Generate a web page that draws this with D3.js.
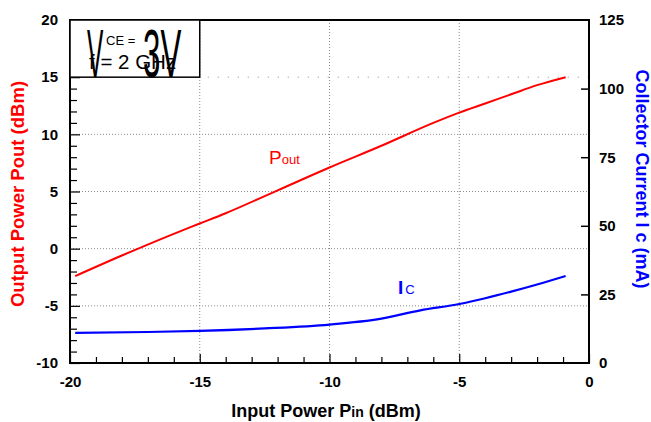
<!DOCTYPE html>
<html>
<head>
<meta charset="utf-8">
<script src="https://cdn.jsdelivr.net/npm/d3@7/dist/d3.min.js"></script>
<style>
  html, body { margin: 0; padding: 0; background: #fff; }
  svg { display: block; font-family: "Liberation Sans", Arial, sans-serif; }
</style>
</head>
<body>
<svg id="chart" width="651" height="422"></svg>
<script>
// Input power sweep (dBm) and measured output power (dBm)
const pinPout = [-19.8, -18, -16, -15, -14, -12, -10, -8, -6, -5, -4, -3, -2, -0.9];
const poutValues = [-2.4, -0.6, 1.3, 2.2, 3.1, 5.1, 7.1, 9.0, 11.0, 11.9, 12.7, 13.5, 14.3, 15.0];

// Collector current (mA) over the same sweep
const pinIc = [-19.8, -17, -15, -12.5, -10, -8, -6.5, -5, -4, -3, -2, -0.9];
const icValues = [11.0, 11.3, 11.7, 12.6, 14.0, 16.2, 19.2, 21.5, 23.6, 26.0, 28.6, 31.7];

// Tick labels
const xTicks = [-20, -15, -10, -5, 0];
const leftTicks = [-10, -5, 0, 5, 10, 15, 20];
const rightTicks = [0, 25, 50, 75, 100, 125];
const xGrid = [-15, -10, -5];
const yGrid = [-5, 0, 5, 10];

const svg = d3.select("#chart");
const L = 70, R = 589, T = 20, B = 363;

const x = d3.scaleLinear().domain([-20, 0]).range([L, R]);
const yL = d3.scaleLinear().domain([-10, 20]).range([B, T]);
const yR = d3.scaleLinear().domain([0, 125]).range([B, T]);

// dotted grid
const grid = svg.append("g").attr("stroke", "#8a8a8a").attr("stroke-width", 1)
  .attr("stroke-dasharray", "1,2");
xGrid.forEach(v => grid.append("line")
  .attr("x1", x(v)).attr("x2", x(v)).attr("y1", T).attr("y2", B));
yGrid.forEach(v => grid.append("line")
  .attr("x1", L).attr("x2", R).attr("y1", yL(v)).attr("y2", yL(v)));
grid.append("line").attr("stroke-dasharray", "1,9")
  .attr("x1", x(-15) + 8).attr("x2", R).attr("y1", yL(15)).attr("y2", yL(15));

const tickFont = g => g.selectAll("text")
  .attr("font-size", 15).attr("font-weight", "bold").attr("fill", "#000")
  .attr("font-family", "'Liberation Sans', Arial, sans-serif");

// left axis: minor ticks every 1 dBm, labels every 5
const leftAxis = svg.append("g").attr("transform", `translate(${L},0)`)
  .call(d3.axisLeft(yL).tickValues(d3.range(-10, 21, 1))
    .tickSize(-7).tickPadding(12)
    .tickFormat(d => leftTicks.includes(d) ? String(d) : ""))
  .call(tickFont);
leftAxis.selectAll(".tick line").attr("stroke-width", 1.2)
  .filter(d => d % 5 === 0).attr("x2", 10);

// bottom axis
const bottomAxis = svg.append("g").attr("transform", `translate(0,${B})`)
  .call(d3.axisBottom(x).tickValues(d3.range(-20, 1, 1))
    .tickSize(-6).tickPadding(13)
    .tickFormat(d => xTicks.includes(d) ? String(d) : ""))
  .call(tickFont);
bottomAxis.selectAll(".tick line").attr("stroke-width", 1.2)
  .filter(d => d % 5 === 0).attr("y2", -9);

// right axis
const rightAxis = svg.append("g").attr("transform", `translate(${R},0)`)
  .call(d3.axisRight(yR).tickValues(rightTicks)
    .tickSize(-8).tickPadding(10).tickFormat(d => String(d)))
  .call(tickFont);
rightAxis.selectAll(".tick line").attr("stroke-width", 1.5)
  .filter(d => d === 0 || d === 125).remove();
svg.selectAll(".domain").remove();

// curves
const lineOut = d3.line().x((d, i) => x(pinPout[i])).y(d => yL(d)).curve(d3.curveMonotoneX);
const lineIc = d3.line().x((d, i) => x(pinIc[i])).y(d => yR(d)).curve(d3.curveMonotoneX);
svg.append("path").attr("d", lineOut(poutValues))
  .attr("fill", "none").attr("stroke", "#ff0000").attr("stroke-width", 2);
svg.append("path").attr("d", lineIc(icValues))
  .attr("fill", "none").attr("stroke", "#0000ff").attr("stroke-width", 2.2);

// frame
svg.append("rect").attr("x", L).attr("y", T).attr("width", R - L).attr("height", B - T)
  .attr("fill", "none").attr("stroke", "#000").attr("stroke-width", 2);

// condition box in the top-left corner
svg.append("rect")
  .attr("x", x(-20)).attr("y", yL(20))
  .attr("width", x(-15) - x(-20)).attr("height", yL(15) - yL(20))
  .attr("fill", "#fff").attr("stroke", "#000").attr("stroke-width", 1.5);
const box = svg.append("g").attr("fill", "#000");
box.append("text").attr("transform", "translate(87,77) scale(0.36,1)")
  .attr("font-size", 68).text("V");
box.append("text").attr("x", 106).attr("y", 45).attr("font-size", 13).text("CE =");
box.append("text").attr("x", 89).attr("y", 69).attr("font-size", 20.5).text("f = 2 GHz");
box.append("text").attr("transform", "translate(143,77) scale(0.46,1)")
  .attr("font-size", 68).text("3V");

// series labels
const pl = svg.append("text").attr("x", 269).attr("y", 164).attr("fill", "#ff0000");
pl.append("tspan").attr("font-size", 19).text("P");
pl.append("tspan").attr("font-size", 13).text("out");
const il = svg.append("text").attr("x", 398).attr("y", 294).attr("fill", "#0000ff");
il.append("tspan").attr("font-size", 19).attr("font-weight", "bold").text("I");
il.append("tspan").attr("font-size", 13).attr("dx", 2).text("C");

// axis titles
const xt = svg.append("text").attr("x", 326).attr("y", 417).attr("text-anchor", "middle")
  .attr("font-size", 18).attr("font-weight", "bold").attr("fill", "#000");
xt.append("tspan").text("Input Power P");
xt.append("tspan").attr("font-size", 14).text("in");
xt.append("tspan").text(" (dBm)");

svg.append("text").attr("transform", "translate(24,194) rotate(-90)")
  .attr("text-anchor", "middle").attr("font-size", 18.5).attr("font-weight", "bold")
  .attr("fill", "#ff0000").text("Output Power Pout (dBm)");

svg.append("text").attr("transform", "translate(636,179) rotate(90)")
  .attr("text-anchor", "middle").attr("font-size", 18).attr("font-weight", "bold")
  .attr("fill", "#0000ff").text("Collector Current I c (mA)");
</script>
</body>
</html>
